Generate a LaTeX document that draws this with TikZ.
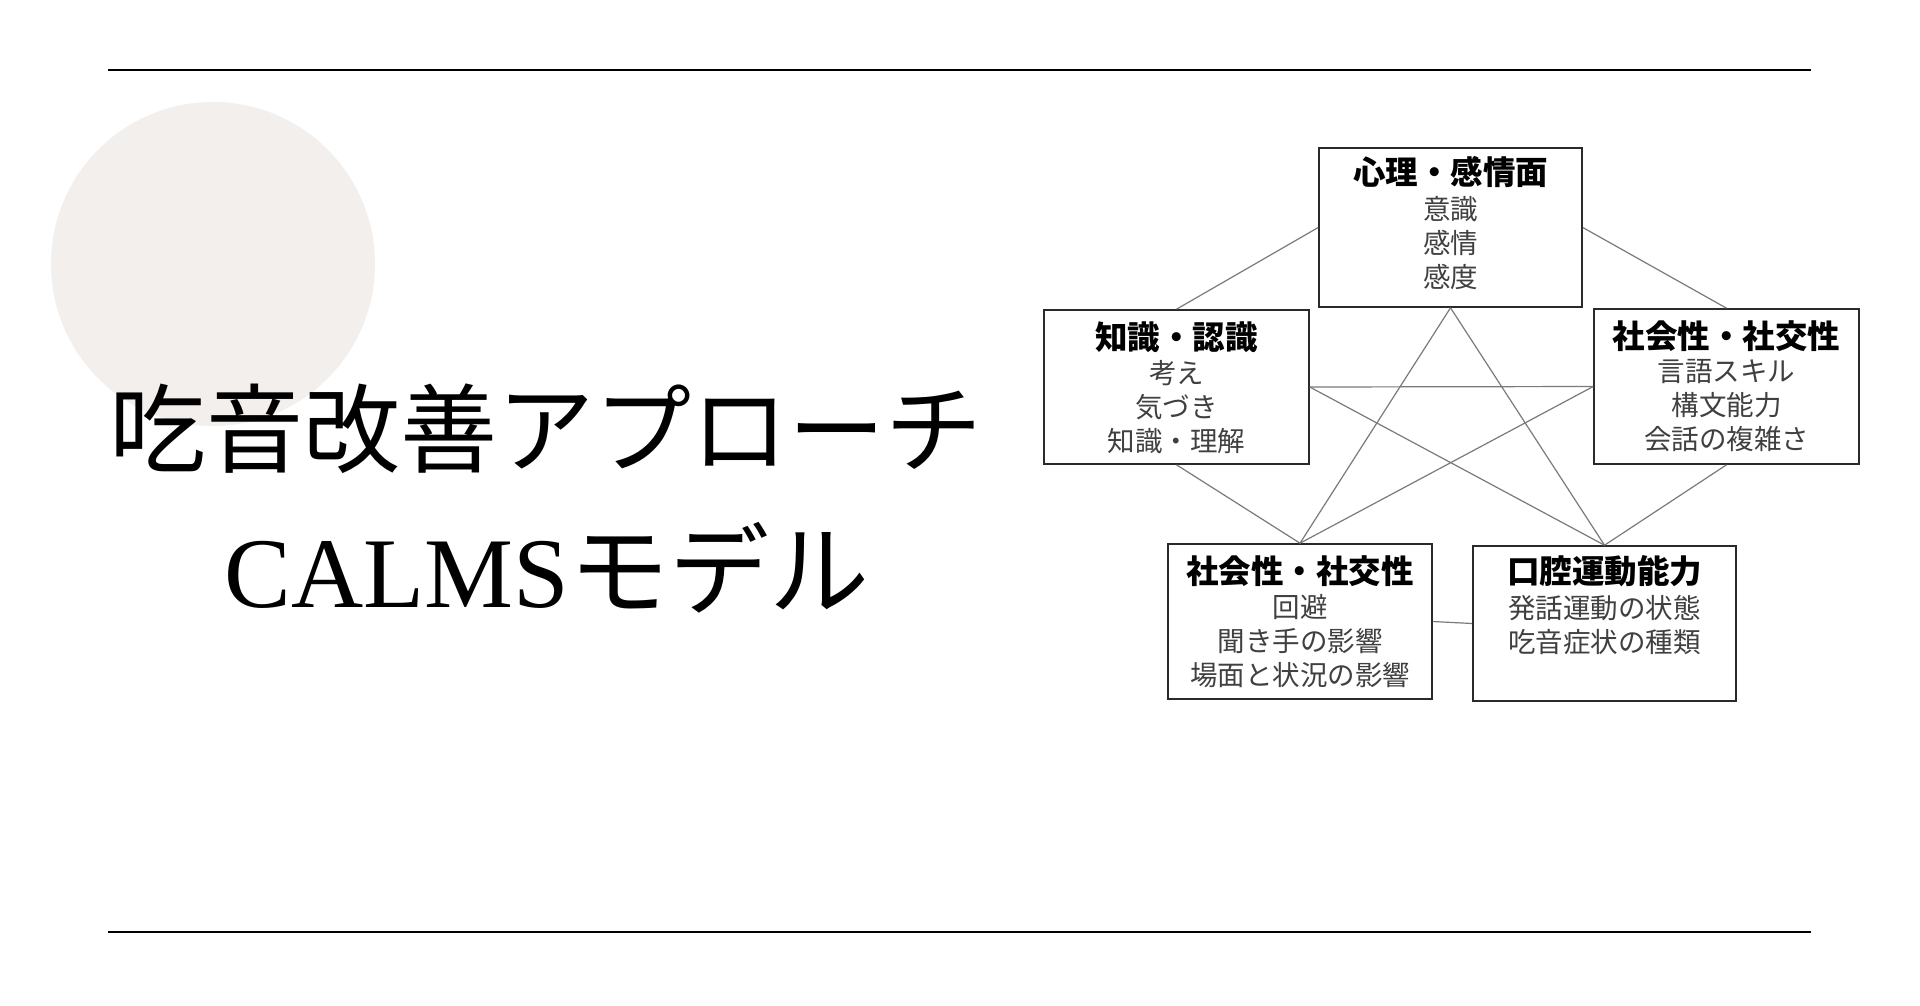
\documentclass[tikz,border=0pt]{standalone}
\usepackage{fontspec}
\setmainfont{Noto Sans CJK JP}
\newfontfamily\latinserif{Liberation Serif}
\definecolor{circlefill}{HTML}{F3EFED}
\definecolor{edgegray}{HTML}{7A7A7A}
\definecolor{boxline}{HTML}{2A2A2A}
\definecolor{subtext}{HTML}{404040}
\begin{document}
\begin{tikzpicture}[x=1pt,y=-1pt,
  box/.style={draw=boxline, line width=1.6pt, fill=white, inner sep=0pt},
  boxtitle/.style={font=\fontsize{32.5}{36}\selectfont\bfseries, text=black, inner sep=0pt, anchor=center},
  boxbody/.style={font=\fontsize{27.5}{34}\selectfont, text=subtext, align=center, inner sep=0pt, anchor=north},
  link/.style={draw=edgegray, line width=1.2pt},
  rule/.style={draw=black, line width=1.8pt}]
\useasboundingbox[fill=white] (0,0) rectangle (1920,1005);
% decoration
\fill[circlefill] (213,264) circle (162);
\coordinate (r1a) at (108,70);
\coordinate (r1b) at (1811,70);
\coordinate (r2a) at (108,932);
\coordinate (r2b) at (1811,932);
\draw[rule] (r1a) -- (r1b);
\draw[rule] (r2a) -- (r2b);
% title
\node[inner sep=0pt, font=\fontsize{97}{100}\selectfont] (title1) at (546,429) {吃音改善アプローチ};
\node[inner sep=0pt, font=\fontsize{100}{100}\selectfont] (title2) at (547,568) {{\latinserif CALMS}モデル};
% boxes
\node[box, minimum width=263pt, minimum height=159pt] (T) at (1450.5,227.5) {};
\node[box, minimum width=265pt, minimum height=154pt] (L) at (1176.5,387) {};
\node[box, minimum width=265pt, minimum height=155pt] (R) at (1726.5,386.5) {};
\node[box, minimum width=264pt, minimum height=155pt] (BL) at (1300,621.5) {};
\node[box, minimum width=263pt, minimum height=155pt] (BR) at (1604.5,623.5) {};
% links
\draw[link] (T.west) -- (L.north);
\draw[link] (T.east) -- (R.north);
\draw[link] (T.south) -- (BL.north);
\draw[link] (T.south) -- (BR.north);
\draw[link] (L.east) -- (R.west);
\draw[link] (L.east) -- (BR.north);
\draw[link] (L.south) -- (BL.north);
\draw[link] (R.west) -- (BL.north);
\draw[link] (R.south) -- (BR.north);
\draw[link] (BL.east) -- (BR.west);
% texts
\node[boxtitle] (Tt) at ([yshift=-25pt]T.north) {心理・感情面};
\node[boxbody] (Tb) at ([yshift=-49pt]T.north) {意識\\感情\\感度};
\node[boxtitle] (Lt) at ([yshift=-28pt]L.north) {知識・認識};
\node[boxbody] (Lb) at ([yshift=-51pt]L.north) {考え\\気づき\\知識・理解};
\node[boxtitle] (Rt) at ([yshift=-28pt]R.north) {社会性・社交性};
\node[boxbody] (Rb) at ([yshift=-51pt]R.north) {言語スキル\\構文能力\\会話の複雑さ};
\node[boxtitle] (BLt) at ([yshift=-28pt]BL.north) {社会性・社交性};
\node[boxbody] (BLb) at ([yshift=-51pt]BL.north) {回避\\聞き手の影響\\場面と状況の影響};
\node[boxtitle] (BRt) at ([yshift=-26pt]BR.north) {口腔運動能力};
\node[boxbody] (BRb) at ([yshift=-50pt]BR.north) {発話運動の状態\\吃音症状の種類};
\end{tikzpicture}
\end{document}
